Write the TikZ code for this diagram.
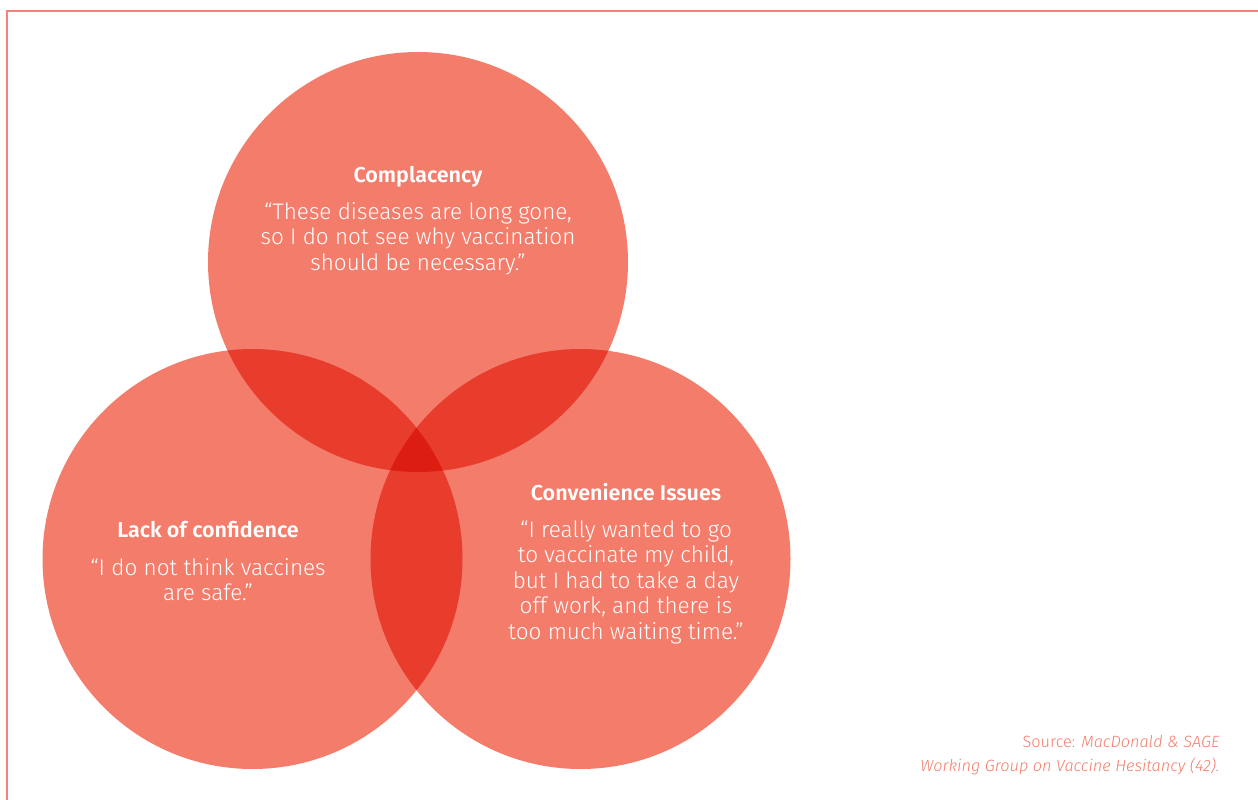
\documentclass[tikz,border=0pt]{standalone}
\usepackage{fontspec}
\setmainfont{Fira Sans}[UprightFont={*},BoldFont={* SemiBold},ItalicFont={* Italic}]
\newfontfamily\thinfont{Fira Sans}[UprightFont={* Light},ItalicFont={* Light Italic}]
\definecolor{salmon}{HTML}{F47C6B}
\definecolor{overlap}{HTML}{E83D2D}
\definecolor{core}{HTML}{DC1D12}
\definecolor{frame}{HTML}{F2837A}
\begin{document}
\begin{tikzpicture}[x=1pt,y=-1pt,
  ring/.style={fill=salmon,draw=none},
  title/.style={text=white,font=\fontsize{21.5}{24}\selectfont\bfseries,anchor=base},
  quote/.style={text=white,font=\thinfont\fontsize{22.5}{25.5}\selectfont,align=center,anchor=north},
  source/.style={text=salmon,font=\thinfont\fontsize{16.3}{24}\selectfont,align=right,anchor=north east}]
\useasboundingbox (0,0) rectangle (1258,800);
% frame lines along the top and left edge
\draw[frame,line width=2pt] (7,800) coordinate (fb) -- (7,11.5) coordinate (fc) -- (1258,11.5) coordinate (fr);
% the three circles
\coordinate (ct) at (418,262);
\coordinate (cl) at (252.5,559);
\coordinate (cr) at (580.5,559);
\fill[ring] (ct) circle (210);
\fill[ring] (cl) circle (210);
\fill[ring] (cr) circle (210);
% pairwise overlaps
\begin{scope}\clip (ct) circle (210); \fill[overlap] (cl) circle (210); \fill[overlap] (cr) circle (210);\end{scope}
\begin{scope}\clip (cl) circle (210); \fill[overlap] (cr) circle (210);\end{scope}
% overlap of all three
\begin{scope}\clip (ct) circle (210); \clip (cl) circle (210); \fill[core] (cr) circle (210);\end{scope}
% labels
\node[title] (t1) at (418,182) {Complacency};
\node[quote] (q1) at (418,199) {“These diseases are long gone,\\so I do not see why vaccination\\should be necessary.”};
\node[title] (t2) at (208,537) {Lack of confidence};
\node[quote] (q2) at (208,555) {“I do not think vaccines\\are safe.”};
\node[title] (t3) at (626,500) {Convenience Issues};
\node[quote] (q3) at (626,517) {“I really wanted to go\\to vaccinate my child,\\but I had to take a day\\off work, and there is\\too much waiting time.”};
\node[source] (src) at (1223,732) {Source: \textit{MacDonald \& SAGE}\\\textit{Working Group on Vaccine Hesitancy (42).}};
\end{tikzpicture}
\end{document}
